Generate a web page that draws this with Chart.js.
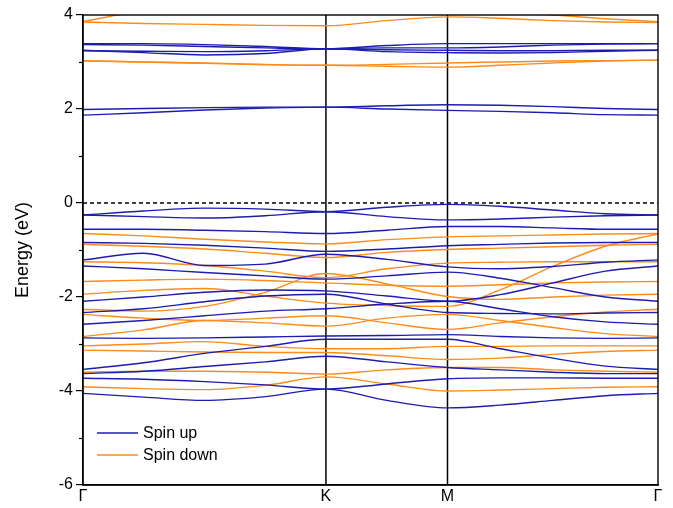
<!DOCTYPE html>
<html><head><meta charset="utf-8">
<script src="https://cdn.jsdelivr.net/npm/chart.js@4.4.0/dist/chart.umd.min.js"></script>
<style>html,body{margin:0;padding:0;background:#fff;}</style>
</head><body>
<canvas id="c" width="673" height="508"></canvas>
<script>
// k-path positions (Γ-K-M-Γ), sample points along the path
const kPath = [0, 0.333, 0.667, 1.0, 1.333, 1.667, 2.0, 2.289, 2.578, 2.866, 3.155];
const kTicks = [0, 1.333, 2.0, 3.155];
const kLabels = ['Γ', 'K', 'M', 'Γ'];
const yMajorTicks = [-6, -4, -2, 0, 2, 4];
const yMinorTicks = [-5, -3, -1, 1, 3];

// Spin up bands (eV) at kPath points
const spinUp = [
  [3.39, 3.39, 3.37, 3.33, 3.28, 3.35, 3.39, 3.39, 3.39, 3.39, 3.39],
  [3.37, 3.36, 3.33, 3.30, 3.28, 3.30, 3.30, 3.32, 3.36, 3.38, 3.39],
  [3.25, 3.20, 3.15, 3.18, 3.28, 3.22, 3.20, 3.19, 3.20, 3.23, 3.25],
  [3.24, 3.23, 3.22, 3.24, 3.28, 3.26, 3.25, 3.24, 3.24, 3.25, 3.25],
  [1.99, 2.01, 2.03, 2.04, 2.04, 2.07, 2.09, 2.08, 2.05, 2.01, 1.99],
  [1.87, 1.92, 1.98, 2.02, 2.04, 2.00, 1.97, 1.95, 1.92, 1.88, 1.87],
  [-0.255, -0.17, -0.11, -0.13, -0.185, -0.09, -0.03, -0.07, -0.15, -0.23, -0.255],
  [-0.255, -0.29, -0.32, -0.27, -0.185, -0.29, -0.36, -0.34, -0.30, -0.27, -0.255],
  [-0.56, -0.56, -0.58, -0.61, -0.65, -0.58, -0.50, -0.50, -0.53, -0.56, -0.56],
  [-0.84, -0.86, -0.90, -0.96, -1.03, -0.98, -0.91, -0.88, -0.85, -0.84, -0.84],
  [-1.21, -1.07, -1.33, -1.30, -1.09, -1.20, -1.36, -1.40, -1.35, -1.26, -1.21],
  [-1.34, -1.40, -1.48, -1.55, -1.62, -1.55, -1.47, -1.60, -1.80, -2.00, -2.09],
  [-2.09, -2.00, -1.90, -1.85, -1.87, -1.98, -2.09, -1.95, -1.70, -1.45, -1.34],
  [-2.33, -2.25, -2.10, -1.98, -1.94, -2.15, -2.33, -2.35, -2.36, -2.34, -2.33],
  [-2.58, -2.50, -2.40, -2.30, -2.25, -2.15, -2.09, -2.25, -2.42, -2.53, -2.58],
  [-2.87, -2.88, -2.87, -2.85, -2.83, -2.82, -2.80, -2.84, -2.87, -2.88, -2.87],
  [-3.54, -3.40, -3.20, -3.05, -2.90, -2.90, -2.90, -3.10, -3.30, -3.47, -3.54],
  [-3.63, -3.58, -3.48, -3.38, -3.26, -3.38, -3.50, -3.55, -3.60, -3.63, -3.63],
  [-3.73, -3.75, -3.80, -3.87, -3.96, -3.85, -3.74, -3.72, -3.72, -3.73, -3.73],
  [-4.05, -4.13, -4.20, -4.12, -3.96, -4.20, -4.36, -4.30, -4.20, -4.10, -4.05]
];

// Spin down bands (eV) at kPath points
const spinDown = [
  [3.85, 3.82, 3.80, 3.78, 3.77, 3.88, 3.96, 3.93, 3.88, 3.85, 3.84],
  [3.86, 4.10, 4.30, 4.35, 4.30, 4.20, 4.10, 4.05, 4.00, 3.92, 3.86],
  [3.02, 3.00, 2.98, 2.95, 2.93, 2.95, 2.98, 3.00, 3.02, 3.03, 3.04],
  [3.03, 3.00, 2.97, 2.94, 2.93, 2.91, 2.89, 2.93, 2.98, 3.02, 3.04],
  [-0.65, -0.70, -0.77, -0.83, -0.87, -0.78, -0.72, -0.70, -0.68, -0.66, -0.65],
  [-0.88, -0.92, -0.98, -1.07, -1.16, -1.05, -0.99, -0.96, -0.93, -0.90, -0.88],
  [-1.25, -1.27, -1.33, -1.45, -1.59, -1.40, -1.28, -1.26, -1.25, -1.25, -1.25],
  [-1.67, -1.64, -1.62, -1.65, -1.70, -1.75, -1.77, -1.74, -1.70, -1.68, -1.67],
  [-1.94, -1.86, -1.82, -1.98, -2.13, -2.18, -2.20, -1.85, -1.35, -0.92, -0.66],
  [-2.26, -2.30, -2.20, -1.90, -1.50, -1.72, -1.99, -2.05, -2.00, -1.96, -1.94],
  [-2.37, -2.45, -2.50, -2.45, -2.40, -2.55, -2.69, -2.55, -2.42, -2.32, -2.26],
  [-2.84, -2.70, -2.50, -2.55, -2.62, -2.45, -2.37, -2.50, -2.65, -2.78, -2.84],
  [-3.04, -3.00, -2.95, -3.05, -3.10, -3.10, -3.05, -3.05, -3.04, -3.04, -3.04],
  [-3.13, -3.15, -3.17, -3.18, -3.18, -3.25, -3.33, -3.30, -3.22, -3.16, -3.13],
  [-3.60, -3.58, -3.58, -3.60, -3.64, -3.55, -3.50, -3.50, -3.55, -3.58, -3.60],
  [-3.91, -3.95, -3.97, -3.88, -3.70, -3.85, -4.00, -3.98, -3.95, -3.92, -3.91]
];

const BLUE = '#1c1cb2';
const ORANGE = '#ff8c1a';
const FONT = '"Liberation Sans", Arial, sans-serif';

function bandDataset(vals, color) {
  return {
    data: vals.map((v, i) => ({ x: kPath[i], y: v })),
    borderColor: color, borderWidth: 1.4, pointRadius: 0,
    cubicInterpolationMode: 'monotone', fill: false, clip: 0
  };
}

const datasets = [];
spinUp.forEach(b => datasets.push(bandDataset(b, BLUE)));
spinDown.forEach(b => datasets.push(bandDataset(b, ORANGE)));
// vertical high-symmetry lines at K and M
[kTicks[1], kTicks[2]].forEach(k => datasets.push({
  data: [{ x: k, y: -6 }, { x: k, y: 4 }], borderColor: '#000', borderWidth: 1.5,
  pointRadius: 0, clip: 0
}));
// Fermi level
datasets.push({
  data: [{ x: kTicks[0], y: 0 }, { x: kTicks[3], y: 0 }], borderColor: '#000',
  borderWidth: 1.3, borderDash: [4, 3], pointRadius: 0, clip: 0
});

const decor = {
  id: 'decor',
  afterDraw(chart) {
    const ctx = chart.ctx, a = chart.chartArea, ys = chart.scales.y;
    ctx.save();
    ctx.strokeStyle = '#000'; ctx.lineWidth = 1.4;
    ctx.strokeRect(a.left, a.top, a.right - a.left, a.bottom - a.top);
    // minor ticks
    ctx.lineWidth = 1.2;
    yMinorTicks.forEach(v => {
      const p = Math.round(ys.getPixelForValue(v)) + 0.5;
      ctx.beginPath(); ctx.moveTo(a.left - 4, p); ctx.lineTo(a.left, p); ctx.stroke();
    });
    // legend
    const items = [['Spin up', BLUE, 433], ['Spin down', ORANGE, 455]];
    ctx.font = '16px ' + FONT;
    ctx.textBaseline = 'middle';
    items.forEach(([t, c, y]) => {
      ctx.strokeStyle = c; ctx.lineWidth = 1.5;
      ctx.beginPath(); ctx.moveTo(97, y); ctx.lineTo(138, y); ctx.stroke();
      ctx.fillStyle = '#000'; ctx.fillText(t, 143, y + 1);
    });
    ctx.restore();
  }
};

new Chart(document.getElementById('c'), {
  type: 'line',
  data: { datasets },
  plugins: [decor],
  options: {
    responsive: false, animation: false, devicePixelRatio: 1,
    layout: { padding: { left: 12, right: 15, top: 15, bottom: 0 } },
    plugins: { legend: { display: false }, tooltip: { enabled: false } },
    scales: {
      x: {
        type: 'linear', min: 0, max: 3.155,
        afterBuildTicks: s => { s.ticks = kTicks.map(v => ({ value: v })); },
        afterFit: s => { s.height = 23; },
        grid: { display: false, drawTicks: false },
        border: { display: true, color: '#000', width: 1.4 },
        ticks: {
          autoSkip: false, maxRotation: 0, padding: 2,
          color: '#000', font: { size: 16, family: FONT },
          callback: (v, i) => kLabels[i]
        }
      },
      y: {
        min: -6, max: 4,
        afterBuildTicks: s => { s.ticks = yMajorTicks.map(v => ({ value: v })); },
        afterFit: s => { s.width = 71; },
        grid: { display: true, drawOnChartArea: false, drawTicks: true, tickLength: 7, color: '#000', lineWidth: 1.2 },
        border: { display: true, color: '#000', width: 1.4 },
        ticks: { color: '#000', padding: 3, font: { size: 16, family: FONT } },
        title: { display: true, text: 'Energy (eV)', color: '#000', padding: { top: 0, bottom: 4 },
                 font: { size: 18, family: FONT } }
      }
    }
  }
});
</script>
</body></html>
